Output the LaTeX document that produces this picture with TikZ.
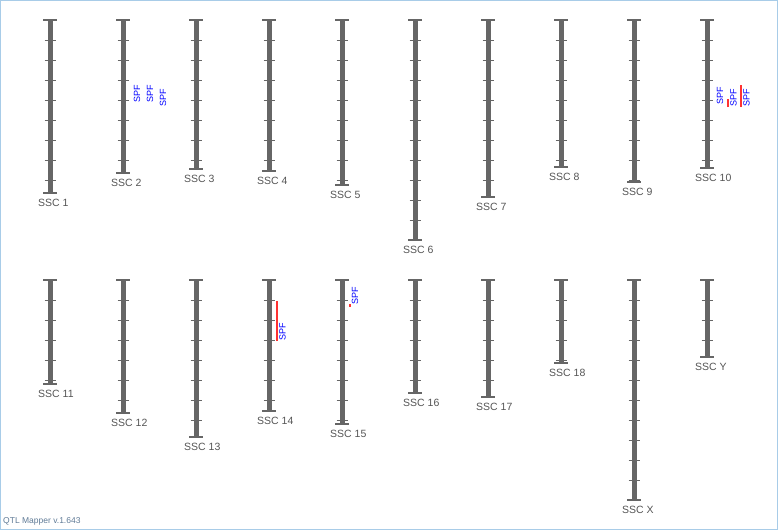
\documentclass[tikz,border=0pt]{standalone}
\usepackage{fontspec}
\setmainfont{Liberation Sans}
\definecolor{chromgray}{HTML}{666666}
\definecolor{labelgray}{HTML}{555555}
\definecolor{qtlblue}{HTML}{0000FF}
\definecolor{qtlred}{HTML}{FF3333}
\definecolor{frameblue}{HTML}{A8CCE8}
\definecolor{footgray}{HTML}{5F7A96}

\begin{document}
\begin{tikzpicture}[x=1pt,y=-1pt,
  chrom/.style={line width=5pt,chromgray},
  chromcap/.style={line width=1.2pt,chromgray},
  chromtick/.style={line width=1pt,chromgray},
  chromlabel/.style={font=\fontsize{10.5}{12}\selectfont,text=labelgray,inner sep=0pt,anchor=west},
  qtl/.style={font=\fontsize{9}{10}\selectfont,text=qtlblue,rotate=90,anchor=west,inner sep=0pt},
  qtlbar/.style={line width=2pt,qtlred}]

\useasboundingbox (0,0) rectangle (778,530);

%FRAME
\draw[frameblue,line width=1pt] (0.5,0.5) rectangle (777.5,529.5);

%CHROMOSOMES
% number / x / top / bottom / last tick / label
\foreach \n/\cx/\ct/\cb/\last/\lab in {
  1/50/20/193/180/SSC 1, 2/123/20/173/160/SSC 2, 3/196/20/169/160/SSC 3,
  4/269/20/171/160/SSC 4, 5/342/20/185/180/SSC 5, 6/415/20/240/220/SSC 6,
  7/488/20/197/180/SSC 7, 8/561/20/167/160/SSC 8, 9/634/20/182/180/SSC 9,
  10/707/20/168/160/SSC 10,
  11/50/280/384/380/SSC 11, 12/123/280/413/400/SSC 12, 13/196/280/437/420/SSC 13,
  14/269/280/411/400/SSC 14, 15/342/280/424/420/SSC 15, 16/415/280/393/380/SSC 16,
  17/488/280/397/380/SSC 17, 18/561/280/363/360/SSC 18, X/634/280/500/480/SSC X,
  Y/707/280/357/340/SSC Y}{
  \coordinate (top\n) at (\cx,\ct);
  \coordinate (bot\n) at (\cx,\cb);
  \draw[chrom] (top\n) -- (bot\n);
  \draw[chromcap] ([xshift=-7pt]top\n) -- ([xshift=7pt]top\n);
  \draw[chromcap] ([xshift=-7pt]bot\n) -- ([xshift=7pt]bot\n);
  % ticks every 20
  \pgfmathtruncatemacro\tA{\ct+20}
  \pgfmathtruncatemacro\tB{\ct+40}
  \foreach \t in {\tA,\tB,...,\last}
    \draw[chromtick] (\cx-5.5,\t) -- (\cx+5.5,\t);
  \node[chromlabel] (lab\n) at ([shift={(-12,10)}]bot\n) {\lab};
}

%QTLS
% SSC 2
\node[qtl] (spf2a) at (137,103) {SPF};
\node[qtl] (spf2b) at (150,103) {SPF};
\node[qtl] (spf2c) at (163,107) {SPF};
% SSC 10
\node[qtl] (spf10a) at (720,105) {SPF};
\coordinate (q10b) at (728,107);
\draw[qtlbar] (q10b) -- ++(0,-8);
\node[qtl] (spf10b) at ([xshift=5.5pt]q10b) {SPF};
\coordinate (q10c) at (741,107);
\draw[qtlbar] (q10c) -- ++(0,-22);
\node[qtl] (spf10c) at ([xshift=5.5pt]q10c) {SPF};
% SSC 14
\coordinate (q14) at (276.5,341);
\draw[qtlbar] (q14) -- ++(0,-40);
\node[qtl] (spf14) at ([xshift=6pt]q14) {SPF};
% SSC 15
\coordinate (q15) at (350,305);
\fill[qtlred] ([shift={(-1,-1.5)}]q15) rectangle ([shift={(1,1.5)}]q15);
\node[qtl] (spf15) at ([xshift=5pt]q15) {SPF};

%FOOTER
\node[font=\fontsize{8.5}{10}\selectfont,text=footgray,anchor=west,inner sep=0pt] (footer) at (3,521) {QTL Mapper v.1.643};

\end{tikzpicture}
\end{document}
